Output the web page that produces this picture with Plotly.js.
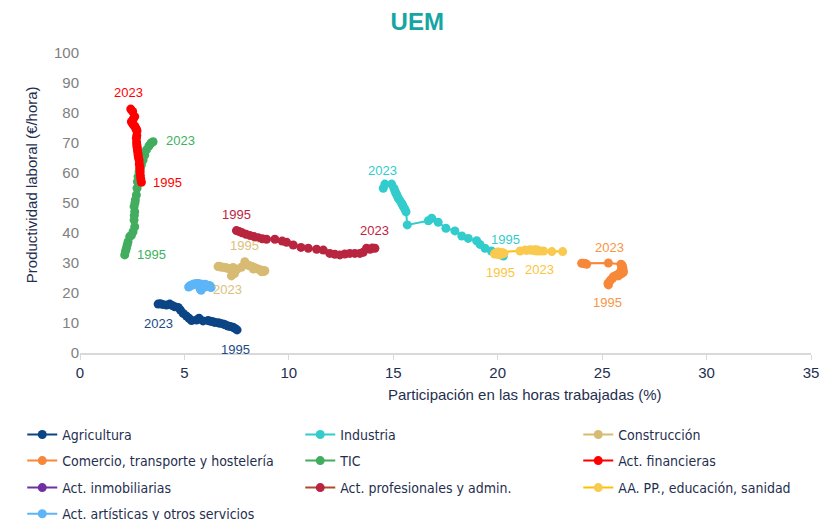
<!DOCTYPE html>
<html>
<head>
<meta charset="utf-8">
<script src="https://cdn.plot.ly/plotly-3.0.1.min.js"></script>
<style>html,body{margin:0;padding:0;background:#fff;}#chart{width:823px;height:520px;}</style>
</head>
<body>
<div id="chart"></div>
<script>
// ---- Data (share of hours worked %, labour productivity €/hour), 1995 -> 2023 ----
const names = ["Agricultura","Industria","Construcción","Comercio, transporte y hostelería","TIC","Act. financieras","Act. inmobiliarias","Act. profesionales y admin.","AA. PP., educación, sanidad","Act. artísticas y otros servicios"];

const x_agr = [7.52,7.42,7.33,7.20,7.09,6.95,6.85,6.70,6.61,6.45,6.37,6.25,6.13,5.89,5.70,5.58,5.34,5.22,5.10,4.94,4.81,4.70,4.54,4.42,4.30,4.14,3.95,3.85,3.74];
const y_agr = [7.7,8.2,8.6,8.8,9.0,9.4,9.7,9.9,10.1,10.2,10.4,10.6,10.8,10.7,11.6,11.0,10.8,11.6,12.3,13.2,14.3,15.2,15.4,15.8,16.3,16.0,16.2,16.4,16.3];

const x_ind = [20.27,20.10,20.03,19.70,19.39,19.15,18.99,18.59,18.28,17.95,17.52,17.15,16.84,16.68,15.67,15.61,15.55,15.48,15.44,15.40,15.32,15.24,15.18,15.13,15.08,15.03,14.92,14.60,14.52];
const y_ind = [32.3,32.8,33.2,34.0,34.9,36.2,37.4,38.2,39.0,40.7,41.6,43.6,44.9,44.1,42.7,47.1,48.0,48.8,49.4,49.9,50.8,51.6,52.5,53.2,54.0,54.9,56.3,56.3,54.9];

const x_con = [7.89,8.05,8.15,8.24,8.35,8.45,8.55,8.61,8.70,8.78,8.85,8.82,8.70,8.30,7.73,7.33,7.00,6.75,6.61,6.65,6.72,6.85,6.97,7.09,7.20,7.52,7.33,7.40,7.25];
const y_con = [30.4,29.3,29.0,28.8,28.5,28.2,27.9,27.7,27.6,27.5,27.4,27.2,27.1,28.0,28.6,28.5,28.4,28.7,28.8,28.9,28.7,28.6,28.4,28.2,27.8,27.9,27.1,26.5,25.7];

const x_com = [25.30,25.28,25.35,25.40,25.50,25.54,25.62,25.70,25.78,25.86,25.90,25.95,26.02,26.00,25.95,25.90,25.85,25.92,26.00,25.98,25.94,25.96,25.94,25.90,25.30,24.02,24.26,24.20,24.10];
const y_com = [22.7,23.2,23.8,24.3,24.9,25.4,25.7,26.0,25.7,26.2,26.5,26.6,27.0,27.4,27.7,27.2,26.8,27.5,28.0,28.5,28.8,29.1,29.3,29.6,30.0,29.9,29.6,29.8,29.9];

const x_tic = [2.14,2.18,2.22,2.26,2.30,2.38,2.46,2.54,2.62,2.59,2.60,2.62,2.59,2.63,2.65,2.70,2.73,2.75,2.78,2.83,2.88,2.94,3.02,3.10,3.18,3.30,3.38,3.45,3.50];
const y_tic = [32.7,33.9,34.9,36.0,37.1,38.8,39.2,40.4,42.1,44.3,45.8,47.1,48.8,50.0,51.0,52.7,54.9,57.1,58.8,60.4,61.5,62.7,64.3,66.0,67.7,69.0,69.8,70.2,70.4];

const x_fin = [2.94,2.91,2.89,2.88,2.87,2.86,2.84,2.83,2.80,2.78,2.77,2.75,2.74,2.73,2.72,2.71,2.70,2.72,2.73,2.70,2.67,2.63,2.57,2.52,2.46,2.55,2.62,2.52,2.43];
const y_fin = [56.9,58.0,59.2,60.4,61.3,62.1,63.0,64.3,65.2,66.0,66.8,67.7,68.3,68.8,69.5,70.3,71.6,72.5,74.0,74.6,74.9,75.5,76.0,76.4,77.1,78.0,78.8,80.5,81.3];

// Real estate: productivity far above the plotted range (not visible)
const x_inm = [null];
const y_inm = [null];

const x_pro = [7.49,7.62,7.76,7.95,8.13,8.33,8.53,8.73,8.93,9.33,9.68,9.89,10.21,10.58,10.93,11.33,11.65,11.96,12.20,12.44,12.68,12.92,13.16,13.40,13.56,13.72,13.88,14.00,14.12];
const y_pro = [40.8,40.5,40.1,39.6,39.2,38.8,38.4,38.1,37.9,37.9,37.3,36.9,36.0,35.2,34.9,34.6,34.3,33.2,32.9,32.7,33.0,33.2,33.2,33.2,33.6,34.9,34.6,35.0,34.9];

const x_aap = [20.05,19.95,19.87,19.85,19.90,19.95,20.00,20.11,20.20,20.30,20.25,20.15,20.05,20.00,21.07,21.31,21.40,21.55,21.60,21.79,21.70,21.85,21.95,22.03,22.59,23.11,22.20,21.90,21.80];
const y_aap = [33.5,33.2,33.2,33.0,33.3,33.1,32.9,32.7,33.0,33.2,33.4,33.5,33.6,33.7,34.0,34.3,34.2,34.4,34.3,34.3,34.2,34.0,34.1,34.0,33.8,33.8,34.0,34.3,34.4];

const x_art = [5.20,5.25,5.30,5.35,5.40,5.45,5.50,5.55,5.60,5.65,5.70,5.75,5.80,5.85,5.90,5.95,6.00,6.05,6.10,6.15,6.20,6.25,6.28,6.22,5.80,5.75,5.90,6.00,6.05];
const y_art = [22.0,22.3,22.5,22.6,22.8,23.0,22.9,23.1,23.0,23.2,22.9,23.0,22.8,22.9,22.7,22.8,22.9,22.6,22.4,22.5,22.2,22.0,21.8,22.4,20.9,21.3,21.8,22.1,22.3];

// Year labels: [text, x, y, colour]
const yearLabels = [
  ["2023", 2.33, 87.0, "#ff0000"], ["1995", 4.20, 56.7, "#ff0000"],
  ["2023", 4.82, 70.7, "#3cb25c"], ["1995", 3.44, 32.7, "#3cb25c"],
  ["2023", 3.77, 9.7, "#1b4a86"],  ["1995", 7.46, 1.3, "#1b4a86"],
  ["1995", 7.89, 35.7, "#dcc07a"], ["2023", 7.08, 21.3, "#dcc07a"],
  ["1995", 7.51, 46.3, "#c0243f"], ["2023", 14.12, 40.7, "#c0243f"],
  ["2023", 14.50, 60.7, "#33cccc"], ["1995", 20.35, 37.7, "#33cccc"],
  ["1995", 20.11, 26.7, "#fcc43c"], ["2023", 21.98, 28.0, "#fcc43c"],
  ["2023", 25.33, 35.3, "#f79646"], ["1995", 25.28, 17.0, "#f79646"]
];

const xTicks = [0,5,10,15,20,25,30,35];
const yTicks = [0,10,20,30,40,50,60,70,80,90,100];

const series = [
  {x:x_agr, y:y_agr, line:"#0b4585", mk:"#0b4585", lg:"legend"},
  {x:x_ind, y:y_ind, line:"#33cccc", mk:"#33cccc", lg:"legend"},
  {x:x_con, y:y_con, line:"#d8bb73", mk:"#d8bb73", lg:"legend", lw:160},
  {x:x_com, y:y_com, line:"#f7883a", mk:"#f7883a", lg:"legend2"},
  {x:x_tic, y:y_tic, line:"#42ad5f", mk:"#42ad5f", lg:"legend2"},
  {x:x_fin, y:y_fin, line:"#ff0000", mk:"#ff0000", lg:"legend2", lw:160},
  {x:x_inm, y:y_inm, line:"#7030a0", mk:"#7030a0", lg:"legend3"},
  {x:x_pro, y:y_pro, line:"#b04a2c", mk:"#b9243f", lg:"legend3"},
  {x:x_aap, y:y_aap, line:"#ffc000", mk:"#f9ca50", lg:"legend3", lw:200},
  {x:x_art, y:y_art, line:"#5db5f7", mk:"#5db5f7", lg:"legend4"}
];

const traces = series.map((s,i)=>{
  const t = {
    type:"scatter", mode:"lines+markers", name:names[i], x:s.x, y:s.y,
    line:{color:s.line, width:2}, marker:{color:s.mk, size:9, line:{width:0}},
    legend:s.lg, cliponaxis:true, hoverinfo:"x+y+name"
  };
  if (s.lw) t.legendwidth = s.lw;
  return t;
});

const navy = "#1f2f4f";
const labelFont = "Liberation Sans, Arial, sans-serif";
const legFont = {family:"Liberation Sans Narrow, DejaVu Sans Condensed, Arial Narrow, sans-serif", size:14, color:navy};
const legBase = {orientation:"h", x:-0.079, xanchor:"left", yanchor:"middle", entrywidth:233, entrywidthmode:"pixels",
  font:legFont, bgcolor:"rgba(0,0,0,0)", itemwidth:30, traceorder:"normal"};

const annotations = yearLabels.map(a=>({text:a[0], x:a[1], y:a[2], xref:"x", yref:"y", showarrow:false,
  font:{family:labelFont, size:13, color:a[3]}}));
annotations.push({text:"Participación en las horas trabajadas (%)", xref:"paper", yref:"paper", x:0.6075, y:-0.173,
  showarrow:false, font:{family:labelFont, size:15, color:navy}});
annotations.push({text:"Productividad laboral (€/hora)", xref:"paper", yref:"paper", x:-0.0798, y:0.56, textangle:-90,
  showarrow:false, font:{family:labelFont, size:15, color:navy}});

const layout = {
  width:823, height:520,
  margin:{l:80, r:12, t:53, b:167, autoexpand:false},
  paper_bgcolor:"#ffffff", plot_bgcolor:"#ffffff",
  title:{text:"<b>UEM</b>", x:0.507, xanchor:"center", y:0.958, yanchor:"middle", yref:"container",
    font:{family:labelFont, size:24, color:"#16a5a3"}},
  xaxis:{range:[0,35], tickvals:xTicks, ticktext:xTicks.map(String), showgrid:false, zeroline:false,
    showline:true, linecolor:"#d9d9d9", linewidth:1.5, ticks:"outside", ticklen:5, tickcolor:"#d9d9d9",
    tickfont:{family:labelFont, size:15, color:navy}},
  yaxis:{range:[0,100], tickvals:yTicks, ticktext:yTicks.map(String), showgrid:false, zeroline:false,
    showline:false, ticks:"", tickfont:{family:labelFont, size:15, color:"#808080"}},
  showlegend:true,
  legend: Object.assign({}, legBase, {y:-0.273}),
  legend2: Object.assign({}, legBase, {y:-0.36}),
  legend3: Object.assign({}, legBase, {y:-0.45}),
  legend4: Object.assign({}, legBase, {y:-0.537}),
  annotations:annotations
};

Plotly.newPlot("chart", traces, layout, {staticPlot:true, displayModeBar:false});
</script>
</body>
</html>
